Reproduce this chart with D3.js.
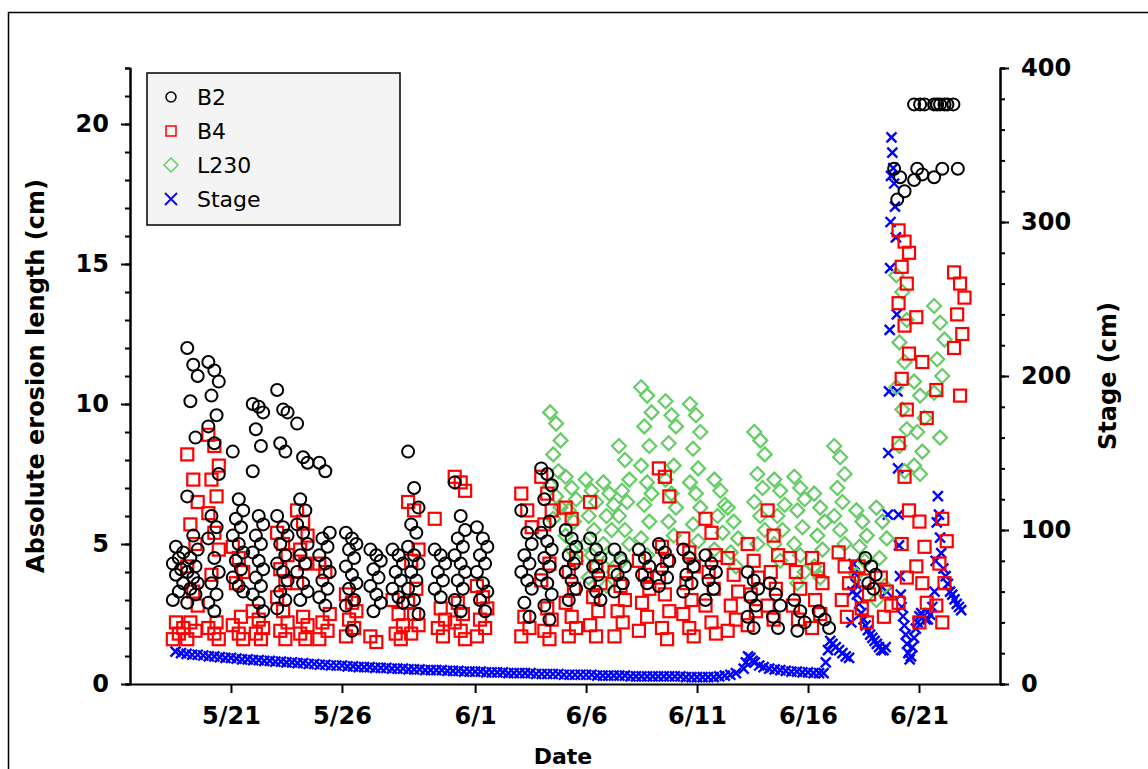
<!DOCTYPE html>
<html><head><meta charset="utf-8">
<script src="https://cdn.jsdelivr.net/npm/d3@7"></script>
<style>body{margin:0;background:#fff}svg{display:block}</style>
</head><body><svg id="c" width="1148" height="769"></svg>
<script>
// days counted from 5/21 (day 0)
const tickDays = [0, 5, 11, 16, 21, 26, 31];
const tickLabels = ['5/21', '5/26', '6/1', '6/6', '6/11', '6/16', '6/21'];
const seriesNames = ['B2', 'B4', 'L230', 'Stage'];

// clusters: [day, [values cm]]
const b2 = [
  [-2.4, [3.0,3.3,3.6,3.9,4.1,4.3,4.5,4.7,4.9]],
  [-1.75, [12.0,11.4,11.0,10.1,8.8,6.7,5.3,4.8,4.5,4.2,4.0,3.8,3.6,3.4,3.2,2.9]],
  [-0.8, [11.5,11.2,10.8,10.3,9.6,9.2,8.6,7.5,6.0,5.6,5.2,4.5,4.0,3.6,3.2,2.9,2.6]],
  [0.3, [8.3,6.6,6.2,5.9,5.6,5.3,5.0,4.7,4.4,4.1,3.8,3.5,3.3]],
  [1.2, [10.0,9.9,9.7,9.1,8.5,7.6,6.0,5.7,5.3,5.0,4.7,4.4,4.1,3.8,3.5,3.2,2.9,2.6]],
  [2.3, [10.5,9.8,9.7,8.6,8.3,6.0,5.6,5.3,5.0,4.6,4.3,4.0,3.7,3.3,3.0,2.7]],
  [3.2, [9.3,8.1,7.9,6.6,6.2,5.7,5.4,5.0,4.6,4.3,4.0,3.6,3.3,3.0]],
  [4.2, [7.9,7.6,5.4,5.2,4.9,4.6,4.3,4.0,3.7,3.4,3.1,2.8]],
  [5.4, [5.4,5.2,5.0,4.8,4.5,4.2,3.9,3.6,3.4,3.0,2.8,1.9]],
  [6.5, [4.8,4.6,4.4,4.1,3.8,3.5,3.2,2.9,2.6]],
  [7.5, [4.8,4.6,4.3,4.0,3.7,3.4,3.1,2.9]],
  [8.2, [8.3,7.0,6.3,5.7,5.4,4.9,4.6,4.3,4.0,3.7,3.4,3.0,2.5]],
  [9.4, [4.8,4.6,4.3,4.0,3.7,3.4,3.1]],
  [10.3, [7.2,6.0,5.5,5.2,4.9,4.6,4.3,4.0,3.7,3.4,3.0,2.6]],
  [11.3, [5.6,5.2,4.9,4.6,4.3,4.0,3.6,3.3,3.0,2.6]],
  [13.3, [6.2,5.4,5.0,4.6,4.3,4.0,3.7,3.4,2.9,2.4]],
  [14.2, [7.7,7.5,7.1,6.6,5.8,5.4,5.1,4.8,4.5,4.2,3.9,3.6,3.2,2.8,2.3]],
  [15.3, [5.5,5.2,4.9,4.6,4.3,4.0,3.7,3.4,3.0]],
  [16.4, [5.2,4.8,4.5,4.2,3.9,3.6,3.3,3.0]],
  [17.5, [4.8,4.5,4.2,3.9,3.6,3.3]],
  [18.6, [4.8,4.5,4.2,3.9,3.6]],
  [19.5, [5.0,4.7,4.4,4.1,3.8,3.5]],
  [20.6, [4.8,4.5,4.2,3.9,3.6,3.3]],
  [21.6, [4.6,4.3,4.0,3.7,3.4,3.0]],
  [23.5, [4.0,3.7,3.4,3.1,2.8,2.4,2.0]],
  [24.5, [3.6,3.2,2.8,2.4,2.0]],
  [25.6, [3.0,2.6,2.2,1.9]],
  [26.7, [2.6,2.3,2.0]],
  [28.8, [4.5,4.2,3.9,3.6,3.4]],
  [30.1, [18.4,18.1,17.6,17.3]],
  [31.0, [20.7,20.7,20.7,18.4,18.2,18.0]],
  [31.9, [20.7,20.7,20.7,20.7,18.4,18.1]],
  [32.5, [20.7,20.7,18.4]]
];

const b4 = [
  [-2.4, [1.6,1.8,2.0,2.2]],
  [-1.75, [8.2,7.3,6.5,5.7,5.0,4.2,3.3,2.8,2.2,1.9,1.6]],
  [-0.8, [8.9,8.5,7.8,7.3,6.7,6.1,5.4,4.8,3.9,2.2,2.0,1.8,1.6]],
  [0.3, [4.9,4.5,4.0,3.6,2.4,2.1,1.8,1.6]],
  [1.2, [2.6,2.3,2.0,1.8,1.6]],
  [2.3, [5.4,5.0,4.6,4.1,3.6,3.1,2.6,2.2,1.9,1.6]],
  [3.2, [6.2,5.8,5.3,4.8,4.3,3.6,2.4,2.1,1.8,1.6]],
  [4.2, [4.3,4.0,2.5,2.2,1.9,1.6]],
  [5.4, [3.2,2.9,2.6,2.3,2.0,1.7]],
  [6.5, [1.7,1.5]],
  [7.5, [3.0,2.5,2.1,1.8,1.6]],
  [8.2, [6.5,6.2,4.8,4.4,3.4,2.9,2.5,2.1,1.8]],
  [9.4, [5.9,2.7,2.3,2.0,1.7]],
  [10.3, [7.4,7.2,6.9,2.9,2.5,2.2,1.9,1.6]],
  [11.3, [3.5,3.1,2.7,2.3,2.0,1.7]],
  [13.3, [6.8,6.2,5.6,2.4,2.0,1.7]],
  [14.2, [7.4,6.8,6.2,5.7,4.3,3.7,2.7,2.3,1.9,1.6]],
  [15.3, [6.3,5.9,4.5,4.0,3.4,2.9,2.4,2.0,1.7]],
  [16.4, [6.5,4.2,3.6,3.1,2.6,2.1,1.7]],
  [17.5, [4.0,3.5,3.0,2.6,2.2,1.7]],
  [18.6, [4.4,3.9,3.4,2.9,2.4,1.9]],
  [19.5, [7.7,7.4,6.7,4.9,4.4,3.8,3.2,2.6,2.0,1.6]],
  [20.6, [5.2,4.7,4.2,3.6,3.0,2.5,2.0,1.7]],
  [21.6, [5.9,5.4,4.6,4.0,3.4,2.8,2.2,1.8]],
  [22.6, [4.5,3.9,3.3,2.8,2.3,1.9]],
  [23.5, [5.0,4.4,3.8,3.2,2.6,2.1]],
  [24.4, [6.2,5.3,4.6,4.0,3.4,2.8,2.3]],
  [25.4, [4.5,4.0,3.4,2.8,2.3]],
  [26.4, [4.5,4.1,3.6,3.0,2.5,2.0]],
  [27.6, [4.7,4.2,3.6,3.0,2.4]],
  [28.5, [4.2,3.7,3.2,2.7,2.2]],
  [29.5, [3.8,3.3,2.8,2.4]],
  [30.3, [16.2,15.8,15.4,14.9,14.3,13.6,12.8,11.8,10.9,9.8,8.6,7.4,6.2,5.0,3.8,2.9]],
  [31.1, [13.1,11.5,9.5,5.8,4.9,4.2,3.6,2.9,2.2]],
  [32.0, [10.5,5.9,5.1,4.3,3.6,2.8,2.2]],
  [32.8, [14.7,14.3,13.8,13.2,12.5,12.0,10.3]]
];

const l230 = [
  [14.6, [9.7,9.3,8.7,8.2,7.6,7.1,6.7,6.3,5.9]],
  [15.3, [7.4,7.0,6.6,6.2,5.8,5.3,4.8,4.4]],
  [16.2, [7.3,6.9,6.5,6.0,5.5,5.0,4.6,4.2,3.8]],
  [17.0, [7.2,6.8,6.4,6.0,5.5,5.0,4.5,4.0,3.5]],
  [17.7, [8.5,8.0,7.3,6.9,6.5,6.0,5.5,5.0,4.4]],
  [18.7, [10.6,10.3,9.7,9.2,8.5,7.8,7.2,6.8,6.4,5.8,5.2,4.6]],
  [19.8, [10.1,9.6,9.2,8.6,7.8,7.3,6.8,6.3,5.8,5.3]],
  [20.9, [10.0,9.6,9.0,8.4,7.7,7.2,6.8,6.3,5.7,5.1,4.5]],
  [22.0, [7.3,6.9,6.4,6.0,5.4,4.8]],
  [22.6, [6.3,5.8,5.2,4.7,4.2]],
  [23.8, [9.0,8.7,8.2,7.5,7.0,6.5,6.0,5.5,5.0]],
  [24.7, [7.3,6.9,6.4,6.0,5.5,5.0,4.4]],
  [25.6, [7.4,7.0,6.6,6.2,5.6,5.0,4.6,4.0,3.6]],
  [26.5, [6.8,6.3,5.8,5.3,4.8,4.2,3.8]],
  [27.4, [8.5,8.1,7.5,7.0,6.5,6.0,5.5,5.0]],
  [28.4, [6.2,5.8,5.3,4.9,4.4,3.9]],
  [29.3, [6.3,5.8,5.2,4.5,3.5,3.0]],
  [30.2, [14.6,14.0,13.0,12.2,11.5,10.6,9.8,9.1,8.5,7.6]],
  [31.0, [10.8,10.3,9.5,9.0,8.3,7.8,7.5]],
  [31.9, [13.5,12.9,12.3,11.6,11.0,10.4,8.8]]
];

// stage (cm): slow recession, one reading every 0.25 day from day -2.5
const stageStart = -2.5;
const stageRecession = [
  21,20,19.5,19,19,18.5,18,18,17.5,17,17,16.5,16,16,15.5,15.5,15,15,14.5,14.5,
  14,14,13.5,13.5,13,13,12.5,12.5,12,12,12,11.5,11.5,11,11,11,10.5,10.5,10.5,10,
  10,10,9.5,9.5,9.5,9,9,9,9,8.5,8.5,8.5,8,8,8,8,7.5,7.5,7.5,7.5,
  7,7,7,7,7,6.5,6.5,6.5,6.5,6.5,6,6,6,6,6,6,5.5,5.5,5.5,5.5,
  5.5,5.5,5,5,5,5,5,5,5,5,5,5,4.5,4.5,4.5,4.5,4.5,4.5,5,5.5,6,7
];
// stage (cm) after 6/13: [day, value]
const stageEvents = [
  [23.1,10],[23.2,14],[23.3,18],[23.4,17],[23.5,15],[23.6,14],[23.8,12],[24.0,11],[24.25,10],[24.5,9.5],
  [24.75,9],[25.0,8.5],[25.25,8],[25.5,8],[25.75,7.5],[26.0,7.5],[26.25,7],[26.5,7],[26.7,7],
  [26.8,14],[26.9,22],[27.0,28],[27.1,26],[27.25,24],[27.4,22],[27.55,20],[27.7,18],[27.85,17],
  [27.95,40],[28.0,60],[28.05,78],[28.1,72],[28.15,65],[28.2,58],[28.3,52],[28.4,46],[28.5,42],[28.6,38],
  [28.7,35],[28.8,32],[28.9,30],[29.0,28],[29.1,26],[29.2,24],[29.3,22],[29.4,22],[29.5,24],
  [29.55,60],[29.6,110],[29.62,150],[29.65,190],[29.68,230],[29.7,270],[29.72,300],[29.74,330],[29.76,355],
  [29.8,345],[29.84,335],[29.88,325],[29.92,310],[29.96,290],[30.0,240],[30.03,190],[30.06,140],[30.08,110],
  [30.1,90],[30.14,70],[30.18,58],[30.22,50],[30.28,44],[30.34,38],[30.4,32],[30.46,26],[30.52,20],[30.58,16],
  [30.64,18],[30.7,24],[30.78,30],[30.86,36],[30.94,40],[31.02,44],[31.1,46],[31.2,44],[31.3,42],[31.4,42],
  [31.5,45],[31.6,50],[31.7,60],[31.75,80],[31.8,105],[31.85,122],[31.9,110],[31.95,95],[32.0,85],
  [32.1,75],[32.2,70],[32.3,65],[32.4,60],[32.5,58],[32.6,55],[32.7,52],[32.8,50],[32.9,48]
];

const W = 1148, H = 769;
const m = {left: 130, right: 1000, top: 68, bottom: 684};
const svg = d3.select('#c');
const font = 'Verdana, "DejaVu Sans", sans-serif';

svg.append('rect').attr('x', 8.5).attr('y', 12.5).attr('width', 1200).attr('height', 800)
  .attr('fill', 'none').attr('stroke', '#000').attr('stroke-width', 1.5);

const x = d3.scaleLinear().domain([-4.55, 34.65]).range([m.left, m.right]);
const y = d3.scaleLinear().domain([0, 22]).range([m.bottom, m.top]);
const y2 = d3.scaleLinear().domain([0, 400]).range([m.bottom, m.top]);

// readings in a cluster are spread over the day in a zigzag so the cluster looks like a blob
const zig = [-0.22, 0.05, 0.25, -0.08, 0.15];
function flatten(clusters) {
  const pts = [];
  clusters.forEach(([d, vals]) => {
    vals.forEach((v, i) => pts.push([d + zig[i % zig.length], v]));
  });
  return pts;
}
const stage = stageRecession.map((v, i) => [stageStart + i * 0.25, v]).concat(stageEvents);

const plot = svg.append('g');
// stage
plot.selectAll('path.st').data(stage).join('path').attr('class', 'st')
  .attr('transform', d => `translate(${x(d[0])},${y2(d[1])})`)
  .attr('d', 'M-5,-5L5,5M-5,5L5,-5').attr('stroke', '#0000ff').attr('stroke-width', 2.4).attr('fill', 'none');
// L230
plot.selectAll('path.l').data(flatten(l230)).join('path').attr('class', 'l')
  .attr('transform', d => `translate(${x(d[0])},${y(d[1])})`)
  .attr('d', 'M0,-7L7,0L0,7L-7,0Z').attr('fill', 'none').attr('stroke', '#66cc66').attr('stroke-width', 2.2);
// B4
plot.selectAll('rect.b4').data(flatten(b4)).join('rect').attr('class', 'b4')
  .attr('x', d => x(d[0]) - 6).attr('y', d => y(d[1]) - 6).attr('width', 12).attr('height', 12)
  .attr('fill', 'none').attr('stroke', '#ff0000').attr('stroke-width', 2.2);
// B2
plot.selectAll('circle.b2').data(flatten(b2)).join('circle').attr('class', 'b2')
  .attr('cx', d => x(d[0])).attr('cy', d => y(d[1])).attr('r', 6)
  .attr('fill', 'none').attr('stroke', '#000').attr('stroke-width', 2);

// axes
const tickStyle = g => g.selectAll('text').attr('font-family', font).attr('font-weight', 'bold').attr('font-size', 24).attr('fill', '#000');
svg.append('g').attr('transform', `translate(0,${m.bottom})`)
  .call(d3.axisBottom(x).tickValues(tickDays).tickFormat((d, i) => tickLabels[i]).tickSize(9).tickPadding(14).tickSizeOuter(0))
  .call(tickStyle).call(g => g.selectAll('path,line').attr('stroke-width', 2));
svg.append('g').attr('transform', `translate(${m.left},0)`)
  .call(d3.axisLeft(y).tickValues(d3.range(0, 23, 1)).tickSize(5).tickFormat(''))
  .call(g => g.selectAll('path,line').attr('stroke-width', 2));
svg.append('g').attr('transform', `translate(${m.left},0)`)
  .call(d3.axisLeft(y).tickValues([0, 5, 10, 15, 20]).tickSize(9).tickPadding(12).tickSizeOuter(0))
  .call(tickStyle).call(g => g.selectAll('path,line').attr('stroke-width', 2));
svg.append('g').attr('transform', `translate(${m.right},0)`)
  .call(d3.axisRight(y2).tickValues(d3.range(0, 401, 20)).tickSize(5).tickFormat(''))
  .call(g => g.selectAll('path,line').attr('stroke-width', 2));
svg.append('g').attr('transform', `translate(${m.right},0)`)
  .call(d3.axisRight(y2).tickValues([0, 100, 200, 300, 400]).tickSize(9).tickPadding(12).tickSizeOuter(0))
  .call(tickStyle).call(g => g.selectAll('path,line').attr('stroke-width', 2));

const title = (t, tx, ty, rot, fs) => svg.append('text').attr('transform', `translate(${tx},${ty}) rotate(${rot})`)
  .attr('text-anchor', 'middle').attr('font-family', font).attr('font-weight', 'bold').attr('font-size', fs).text(t);
title('Absolute erosion length (cm)', 44, 376, -90, 24);
title('Stage (cm)', 1116, 376, -90, 24);
title('Date', 563, 764, 0, 22);

// legend
const lg = svg.append('g').attr('transform', 'translate(147,73)');
lg.append('rect').attr('width', 253).attr('height', 152).attr('fill', '#f4f4f4').attr('stroke', '#000').attr('stroke-width', 1.5);
const shapes = [
  g => g.append('circle').attr('r', 5).attr('fill', 'none').attr('stroke', '#000').attr('stroke-width', 1.5),
  g => g.append('rect').attr('x', -5).attr('y', -5).attr('width', 10).attr('height', 10).attr('fill', 'none').attr('stroke', '#ff0000').attr('stroke-width', 1.5),
  g => g.append('path').attr('d', 'M0,-7L7,0L0,7L-7,0Z').attr('fill', 'none').attr('stroke', '#66cc66').attr('stroke-width', 1.5),
  g => g.append('path').attr('d', 'M-6,-6L6,6M-6,6L6,-6').attr('stroke', '#0000ff').attr('stroke-width', 1.8)
];
seriesNames.forEach((n, i) => {
  const row = lg.append('g').attr('transform', `translate(24,${24 + i * 34})`);
  shapes[i](row);
  row.append('text').attr('x', 26).attr('y', 8).attr('font-family', font).attr('font-size', 22).text(n);
});
</script></body></html>
